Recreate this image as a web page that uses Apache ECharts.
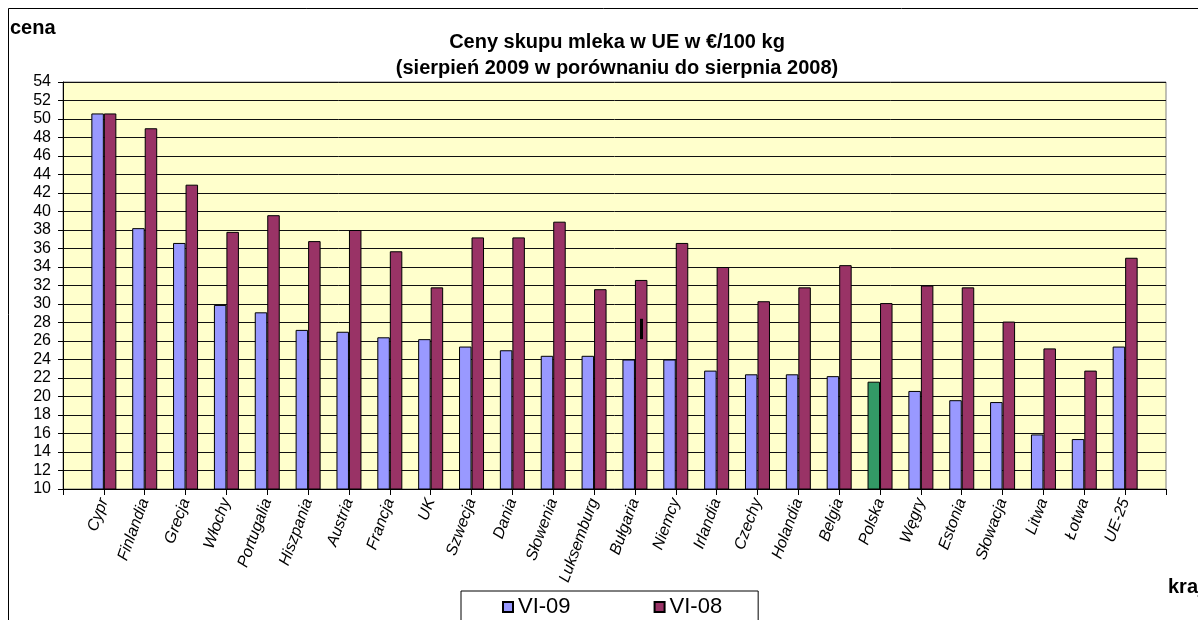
<!DOCTYPE html>
<html>
<head>
<meta charset="utf-8">
<script src="https://cdn.jsdelivr.net/npm/echarts@6/dist/echarts.min.js"></script>
<style>
  html, body { margin: 0; padding: 0; background: #fff; }
  #chart { width: 1198px; height: 620px; }
</style>
</head>
<body>
<div id="chart"></div>
<script>
// Milk purchase prices in the EU, EUR per 100 kg
const countries = ['Cypr', 'Finlandia', 'Grecja', 'Włochy', 'Portugalia', 'Hiszpania', 'Austria', 'Francja', 'UK',
  'Szwecja', 'Dania', 'Słowenia', 'Luksemburg', 'Bułgaria', 'Niemcy', 'Irlandia', 'Czechy', 'Holandia', 'Belgia',
  'Polska', 'Węgry', 'Estonia', 'Słowacja', 'Litwa', 'Łotwa', 'UE-25'];
const vi09 = [50.6, 38.2, 36.6, 29.9, 29.1, 27.2, 27.0, 26.4, 26.2, 25.4, 25.0, 24.4, 24.4, 24.0, 24.0, 22.8, 22.4,
  22.4, 22.2, 21.6, 20.6, 19.6, 19.4, 15.9, 15.4, 25.4];
const vi08 = [50.6, 49.0, 42.9, 37.8, 39.6, 36.8, 38.0, 35.7, 31.8, 37.2, 37.2, 38.9, 31.6, 32.6, 36.6, 34.0, 30.3,
  31.8, 34.2, 30.1, 32.0, 31.8, 28.1, 25.2, 22.8, 35.0];
const seriesNames = ['VI-09', 'VI-08'];
const highlighted = 'Polska';
// small black stroke drawn on the Bułgaria column in the original
const stray = { country: 'Bułgaria', from: 26.2, to: 28.4 };

const FONT = 'Arial, "Liberation Sans", sans-serif';

// empty slot at both ends: bars sit on the ticks like in the Excel original
const axisCats = [''].concat(countries, ['']);
const pad = arr => [null].concat(arr, [null]);

const blueData = pad(vi09.map((v, i) => countries[i] === highlighted
  ? { value: v, itemStyle: { color: '#339966' } }
  : v));

const chart = echarts.init(document.getElementById('chart'), null, { renderer: 'canvas' });

chart.setOption({
  animation: false,
  backgroundColor: '#fff',
  textStyle: { fontFamily: FONT },
  grid: {
    left: 63, right: 32, top: 82, bottom: 131,
    show: true,
    backgroundColor: '#FFFFCC',
    borderColor: '#808080',
    borderWidth: 1
  },
  legend: {
    left: 461, top: 591,
    data: seriesNames,
    icon: 'rect',
    itemWidth: 10, itemHeight: 10,
    itemGap: 83,
    padding: [5, 36, 10, 41],
    backgroundColor: '#fff',
    borderColor: '#000',
    borderWidth: 1,
    borderRadius: 0,
    textStyle: { fontSize: 22, color: '#000', fontFamily: FONT }
  },
  xAxis: {
    type: 'category',
    data: axisCats,
    boundaryGap: false,
    axisLine: { lineStyle: { color: '#000', width: 1 } },
    axisTick: { show: true, length: 6, interval: 0, lineStyle: { color: '#000' } },
    axisLabel: {
      interval: 0,
      rotate: 70,
      margin: 10,
      fontSize: 16,
      fontStyle: 'italic',
      color: '#000',
      fontFamily: FONT
    },
    splitLine: { show: false }
  },
  yAxis: {
    type: 'value',
    min: 10, max: 54, interval: 2,
    axisLine: { show: true, lineStyle: { color: '#000', width: 1 } },
    axisTick: { show: true, length: 5, lineStyle: { color: '#000' } },
    axisLabel: { fontSize: 16, color: '#000', margin: 12, fontFamily: FONT },
    splitLine: { show: true, lineStyle: { color: '#111', width: 1 } }
  },
  series: [
    {
      name: seriesNames[0],
      type: 'bar',
      data: blueData,
      barWidth: 12.5,
      barGap: '0%',
      itemStyle: { color: '#9999FF', borderColor: '#000', borderWidth: 1 }
    },
    {
      name: seriesNames[1],
      type: 'bar',
      data: pad(vi08),
      barWidth: 12.5,
      barGap: '0%',
      itemStyle: { color: '#993366', borderColor: '#000', borderWidth: 1 },
      markLine: {
        silent: true,
        symbol: ['none', 'none'],
        label: { show: false },
        lineStyle: { color: '#000', width: 3, type: 'solid' },
        data: [[
          { coord: [stray.country, stray.from] },
          { coord: [stray.country, stray.to] }
        ]]
      }
    }
  ],
  graphic: [
    {
      // outer chart frame, cut by the picture edge on the right and bottom
      type: 'rect', z: -1, silent: true,
      shape: { x: 8.5, y: 8.5, width: 1400, height: 800 },
      style: { fill: 'transparent', stroke: '#000', lineWidth: 1 }
    },
    {
      type: 'text', left: 10, top: 18,
      style: { text: 'cena', font: 'bold 20px ' + FONT, fill: '#000' }
    },
    {
      type: 'text', left: 1168, top: 577,
      style: { text: 'kraj', font: 'bold 20px ' + FONT, fill: '#000' }
    },
    {
      type: 'text', x: 617, y: 32,
      style: {
        text: 'Ceny skupu mleka w UE w €/100 kg',
        font: 'bold 20px ' + FONT, fill: '#000', align: 'center'
      }
    },
    {
      type: 'text', x: 617, y: 58,
      style: {
        text: '(sierpień 2009 w porównaniu do sierpnia 2008)',
        font: 'bold 20px ' + FONT, fill: '#000', align: 'center'
      }
    }
  ]
});
</script>
</body>
</html>
